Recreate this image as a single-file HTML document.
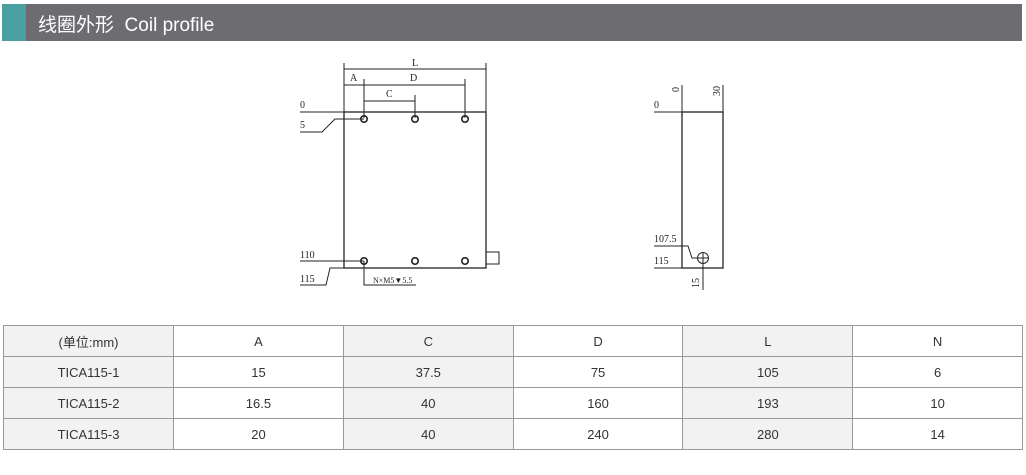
<!DOCTYPE html>
<html><head><meta charset="utf-8"><style>
body{margin:0;width:1026px;height:475px;background:#fff;position:relative;overflow:hidden;font-family:"Liberation Sans","Noto Sans CJK SC",sans-serif}
.bar{position:absolute;left:2px;top:4px;width:1020px;height:37px;background:#6d6d71}
.teal{position:absolute;left:0;top:0;width:24px;height:37px;background:#4a9fa0}
.bar span{position:absolute;left:36px;top:6px;color:#fff;font-size:19px}
table{position:absolute;left:3px;top:325px;border-collapse:collapse;width:1020px}
td{border:1px solid #999;height:30px;text-align:center;font-size:13px;color:#333;width:170px;padding:0}
td.g{background:#f2f2f2}
</style></head><body>
<div class="bar"><div class="teal"></div><span>线圈外形&nbsp; Coil profile</span></div>
<svg width="1026" height="320" style="position:absolute;left:0;top:0" font-family="Liberation Serif,serif" font-size="10" fill="#222">
<g stroke="#222" stroke-width="1" fill="none">
<rect x="344" y="112" width="142" height="156" stroke-width="1.3"/>
<rect x="486" y="252" width="13" height="12"/>
<line x1="344" y1="63" x2="344" y2="112"/><line x1="486" y1="63" x2="486" y2="112"/>
<line x1="364" y1="79" x2="364" y2="118"/><line x1="465" y1="79" x2="465" y2="118"/>
<line x1="415" y1="95" x2="415" y2="118"/>
<line x1="344" y1="69" x2="486" y2="69"/>
<line x1="344" y1="85" x2="364" y2="85"/><line x1="364" y1="85" x2="465" y2="85"/>
<line x1="364" y1="101" x2="415" y2="101"/>
<line x1="300" y1="112" x2="344" y2="112"/>
<polyline points="300,132 322,132 335,119 364,119"/>
<line x1="300" y1="261" x2="364" y2="261"/>
<polyline points="300,285 326,285 330,268 344,268"/>
<polyline points="364,261 364,285 416,285"/>
<g stroke-width="1.6">
<circle cx="364" cy="119" r="3.2"/><circle cx="415" cy="119" r="3.2"/><circle cx="465" cy="119" r="3.2"/>
<circle cx="364" cy="261" r="3.2"/><circle cx="415" cy="261" r="3.2"/><circle cx="465" cy="261" r="3.2"/>
</g>
<rect x="682" y="112" width="41" height="156" stroke-width="1.3"/>
<line x1="682" y1="85" x2="682" y2="112"/><line x1="723" y1="85" x2="723" y2="112"/>
<line x1="654" y1="112" x2="682" y2="112"/>
<polyline points="654,246 688,246 692,258 703,258"/>
<line x1="654" y1="268" x2="682" y2="268"/>
<circle cx="703" cy="258" r="5.5"/>
<line x1="697" y1="258" x2="709" y2="258"/>
<line x1="703" y1="252" x2="703" y2="290"/>
</g>
<g stroke="none" fill="#222">
<text x="412" y="66" font-size="10">L</text>
<text x="350" y="81">A</text><text x="410" y="81">D</text><text x="386" y="97">C</text>
<text x="300" y="108">0</text><text x="300" y="128">5</text>
<text x="300" y="258">110</text><text x="300" y="282">115</text>
<text x="373" y="283" font-size="8">N×M5▼5.5</text>
<text x="654" y="108">0</text>
<text x="654" y="242">107.5</text><text x="654" y="264">115</text>
<text transform="translate(679,92) rotate(-90)">0</text>
<text transform="translate(720,96) rotate(-90)">30</text>
<text transform="translate(699,288) rotate(-90)">15</text>
</g>
</svg>
<table>
<tr><td class="g">(单位:mm)</td><td>A</td><td class="g">C</td><td>D</td><td class="g">L</td><td>N</td></tr>
<tr><td class="g">TICA115-1</td><td>15</td><td class="g">37.5</td><td>75</td><td class="g">105</td><td>6</td></tr>
<tr><td class="g">TICA115-2</td><td>16.5</td><td class="g">40</td><td>160</td><td class="g">193</td><td>10</td></tr>
<tr><td class="g">TICA115-3</td><td>20</td><td class="g">40</td><td>240</td><td class="g">280</td><td>14</td></tr>
</table>
</body></html>
